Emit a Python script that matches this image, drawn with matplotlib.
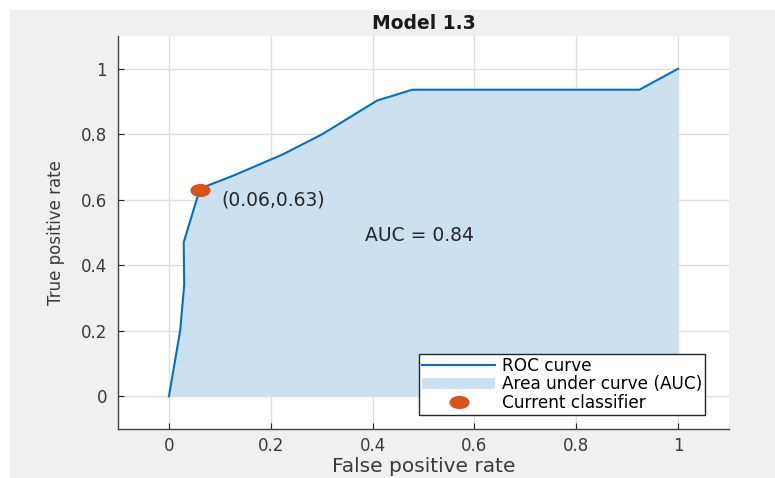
import matplotlib.pyplot as plt
from matplotlib.patches import Rectangle
from matplotlib.path import Path
from matplotlib.transforms import Affine2D

# ROC points (false positive rate, true positive rate)
fpr = [0, 0.022, 0.030, 0.029, 0.061, 0.127, 0.223, 0.301, 0.409, 0.478, 0.924, 1.0]
tpr = [0, 0.20, 0.34, 0.47, 0.634, 0.674, 0.738, 0.80, 0.903, 0.936, 0.936, 1.0]
op_point = (0.06, 0.63)
auc = 0.84
ticks = [0, 0.2, 0.4, 0.6, 0.8, 1]
tick_labels = ['0', '0.2', '0.4', '0.6', '0.8', '1']

plt.rcParams['font.family'] = ['DejaVu Sans']

fig = plt.figure(figsize=(7.75, 4.78), dpi=100, facecolor='white')
# gray panel behind the axes
fig.patches.append(Rectangle((10 / 775, 0), 1 - 10 / 775, 1 - 10 / 478,
                             transform=fig.transFigure, facecolor='#f0f0f0',
                             edgecolor='none', zorder=-10))

ax = fig.add_axes([0.1523, 0.1025, 0.7884, 0.8222])
ax.set_facecolor('white')

# wide oval marker for the operating point
oval = Path.unit_circle().transformed(Affine2D().scale(1.6, 1.0))

ax.fill_between(fpr, tpr, 0, color='#cce1f0', linewidth=0, label='Area under curve (AUC)', zorder=2)
ax.plot(fpr, tpr, color='#0072bd', linewidth=1.5, label='ROC curve', zorder=3)
ax.plot(*op_point, linestyle='none', marker=oval, color='#d95319', markersize=13.5,
        label='Current classifier', zorder=4)

ax.text(0.102, 0.60, '(%.2f,%.2f)' % op_point, fontsize=13.5, color='#262626', va='center')
ax.text(0.385, 0.49, 'AUC = %.2f' % auc, fontsize=13.5, color='#262626', va='center')

ax.set_xlim(-0.1, 1.1)
ax.set_ylim(-0.1, 1.1)
ax.set_xticks(ticks)
ax.set_xticklabels(tick_labels)
ax.set_yticks(ticks)
ax.set_yticklabels(tick_labels)
ax.tick_params(direction='in', length=4, labelsize=12, labelcolor='#3a3a3a',
               color='#262626', pad=6)
ax.tick_params(axis='y', pad=8)
ax.grid(True, color='#dedede', linewidth=1)
ax.set_axisbelow(True)

for side in ['top', 'right']:
    ax.spines[side].set_visible(False)
for side in ['left', 'bottom']:
    ax.spines[side].set_color('#404040')
    ax.spines[side].set_linewidth(1)

ax.set_title('Model 1.3', fontsize=13.5, fontweight='bold', color='#1a1a1a', pad=5)
ax.set_xlabel('False positive rate', fontsize=14.5, color='#3a3a3a', labelpad=1)
ax.set_ylabel('True positive rate', fontsize=12, color='#3a3a3a', labelpad=11)

handles, labels = ax.get_legend_handles_labels()
order = [1, 0, 2]
leg = ax.legend([handles[i] for i in order], [labels[i] for i in order],
                loc='lower right', bbox_to_anchor=(0.961, 0.036), fontsize=12.2,
                frameon=True, fancybox=False, framealpha=1, edgecolor='#262626',
                handlelength=4.3, handletextpad=0.4, borderpad=0.18,
                labelspacing=0.02, borderaxespad=0)
leg.get_frame().set_linewidth(1)

fig.savefig('out.png', dpi=100, facecolor=fig.get_facecolor())
